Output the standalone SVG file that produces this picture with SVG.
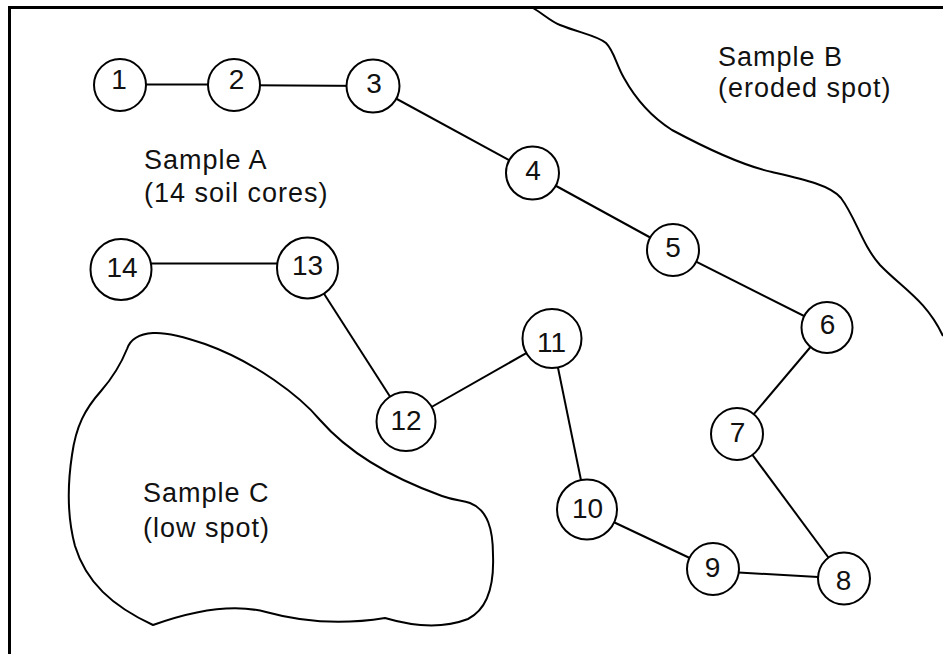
<svg xmlns="http://www.w3.org/2000/svg" width="943" height="654" viewBox="0 0 943 654">
<style>
.bg{fill:#fff}
.frame{fill:none;stroke:#000;stroke-width:3}
.zone{fill:none;stroke:#000;stroke-width:2;stroke-linejoin:round}
.edge{stroke:#000;stroke-width:2;fill:none}
.node circle{fill:#fff;stroke:#000;stroke-width:2}
.num{font-family:"Liberation Sans",Arial,sans-serif;font-size:28px;fill:#111;text-anchor:middle}
.lbl{font-family:"Liberation Sans",Arial,sans-serif;font-size:27px;letter-spacing:1px;fill:#111}
</style>
<rect class="bg" x="0" y="0" width="943" height="654"/>
<path class="frame" d="M9.5,654 V7.5 H943"/>
<g id="zoneB">
<path class="zone" d="M533,8 C545,15 550,21 560,25 C580,33 598,36 606,43 C614,51 616,64 624,78 C634,96 650,116 672,130 C700,145 740,165 772,172 C802,179 830,185 841,198 C856,218 862,245 880,265 C902,288 926,300 943,336"/>
<text class="lbl" x="718" y="66">Sample B</text>
<text class="lbl" x="718" y="97">(eroded spot)</text>
</g>
<g id="zoneC">
<path class="zone" d="M153,333 C138,334 130,340 127,349 C121,364 114,376 101,391 C85,409 76,426 72,455 C67,488 68,520 75,546 C86,582 112,606 153,625 C192,611 232,603 266,612 C302,622 342,625 385,618 C412,626 442,629 468,619 C490,608 494,580 493,555 C493,530 488,510 470,503 C462,500 456,501 442,496 C392,478 348,452 320,420 C300,396 255,362 205,344 C182,336 166,332 153,333 Z"/>
<text class="lbl" x="143" y="502">Sample C</text>
<text class="lbl" x="143" y="537">(low spot)</text>
</g>
<text id="labelA" class="lbl" x="144" y="169">Sample A</text>
<text id="labelA2" class="lbl" x="144" y="202">(14 soil cores)</text>
<g id="connectors">
<line class="edge" x1="120" y1="84.5" x2="234" y2="84.5"/>
<line class="edge" x1="234" y1="85" x2="373" y2="86"/>
<line class="edge" x1="373" y1="86" x2="532.5" y2="173"/>
<line class="edge" x1="532.5" y1="173" x2="673" y2="250"/>
<line class="edge" x1="673" y1="250" x2="827" y2="327.5"/>
<line class="edge" x1="827" y1="327.5" x2="737" y2="434"/>
<line class="edge" x1="737" y1="434" x2="844" y2="578.5"/>
<line class="edge" x1="844" y1="578.5" x2="713" y2="571"/>
<line class="edge" x1="713" y1="569" x2="587" y2="509.5"/>
<line class="edge" x1="587" y1="509.5" x2="552" y2="338.5"/>
<line class="edge" x1="552" y1="338.5" x2="406" y2="421.5"/>
<line class="edge" x1="406" y1="421.5" x2="307.5" y2="268"/>
<line class="edge" x1="307.5" y1="263.5" x2="121" y2="263.5"/>
</g>
<g id="n1" class="node"><circle cx="120" cy="85" r="26"/><text class="num" x="119" y="88.5">1</text></g>
<g id="n2" class="node"><circle cx="234" cy="85" r="26"/><text class="num" x="236.5" y="89">2</text></g>
<g id="n3" class="node"><circle cx="373" cy="86" r="26.5"/><text class="num" x="374" y="93">3</text></g>
<g id="n4" class="node"><circle cx="532.5" cy="173" r="26.5"/><text class="num" x="533" y="180">4</text></g>
<g id="n5" class="node"><circle cx="673" cy="250" r="26"/><text class="num" x="673" y="257">5</text></g>
<g id="n6" class="node"><circle cx="827" cy="327.5" r="25.5"/><text class="num" x="827.5" y="334">6</text></g>
<g id="n7" class="node"><circle cx="737" cy="434" r="26"/><text class="num" x="737.5" y="442">7</text></g>
<g id="n8" class="node"><circle cx="844" cy="578.5" r="26"/><text class="num" x="843.5" y="590">8</text></g>
<g id="n9" class="node"><circle cx="713" cy="569" r="26"/><text class="num" x="712.5" y="577">9</text></g>
<g id="n10" class="node"><circle cx="587" cy="509.5" r="30"/><text class="num" x="587.5" y="518">10</text></g>
<g id="n11" class="node"><circle cx="552" cy="338.5" r="29.5"/><text class="num" x="551.5" y="352">11</text></g>
<g id="n12" class="node"><circle cx="406" cy="421.5" r="29.5"/><text class="num" x="406" y="430">12</text></g>
<g id="n13" class="node"><circle cx="307.5" cy="268" r="30.5"/><text class="num" x="307.5" y="275">13</text></g>
<g id="n14" class="node"><circle cx="121" cy="269.5" r="30.5"/><text class="num" x="122" y="276.5">14</text></g>
</svg>
